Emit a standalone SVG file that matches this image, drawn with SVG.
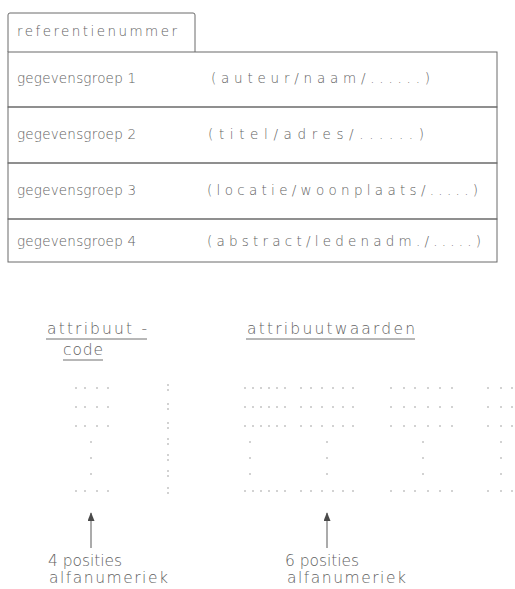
<svg xmlns="http://www.w3.org/2000/svg" width="515" height="589" viewBox="0 0 515 589">
  <style>
    .frame { fill: none; stroke: #6a6a6a; stroke-width: 1; }
    .lbl { font-family: "DejaVu Sans", "Liberation Sans", sans-serif; font-weight: 200; font-size: 13.5px; fill: #626262; }
    .big { font-size: 15.5px; }
    .uline { stroke: #707070; stroke-width: 1; }
    .dot { fill: #9a9a9a; }
    .arrow { stroke: #666666; stroke-width: 1.1; fill: none; }
  </style>
  <defs>
    <marker id="head" viewBox="0 0 10 8" refX="9" refY="4" markerWidth="9" markerHeight="7" markerUnits="userSpaceOnUse" orient="auto">
      <path d="M0,0 L10,4 L0,8 Z" fill="#4a4a4a"/>
    </marker>
    <circle id="d" r="0.8" class="dot"/>
    <!-- one full row of the character grid -->
    <g id="rowTemplate">
      <use href="#d" x="76"/><use href="#d" x="85"/><use href="#d" x="97"/><use href="#d" x="108"/>
      <use href="#d" x="245"/><use href="#d" x="253"/><use href="#d" x="261"/><use href="#d" x="269"/><use href="#d" x="277"/><use href="#d" x="285"/>
      <use href="#d" x="301"/><use href="#d" x="311"/><use href="#d" x="322"/><use href="#d" x="333"/><use href="#d" x="343"/><use href="#d" x="353"/>
      <use href="#d" x="391"/><use href="#d" x="404"/><use href="#d" x="415"/><use href="#d" x="428"/><use href="#d" x="440"/><use href="#d" x="452"/>
      <use href="#d" x="488"/><use href="#d" x="501"/><use href="#d" x="512"/>
    </g>
  </defs>

  <!-- record layout: key tab plus four data groups -->
  <g id="referentienummer">
    <path class="frame" d="M8,52 L8,15 Q8,13 10,13 L193,13 Q195,13 195,15 L195,52"/>
    <text class="lbl" x="17" y="36" textLength="160" lengthAdjust="spacing">referentienummer</text>
  </g>
  <g id="gegevensgroep1">
    <rect class="frame" x="8" y="52" width="489" height="55"/>
    <text class="lbl" x="17" y="83" textLength="119" lengthAdjust="spacing">gegevensgroep 1</text>
    <text class="lbl" x="211" y="83" textLength="219" lengthAdjust="spacing">(auteur/naam/......)</text>
  </g>
  <g id="gegevensgroep2">
    <rect class="frame" x="8" y="107" width="489" height="56"/>
    <text class="lbl" x="17" y="139" textLength="119" lengthAdjust="spacing">gegevensgroep 2</text>
    <text class="lbl" x="208" y="139" textLength="216" lengthAdjust="spacing">(titel/adres/......)</text>
  </g>
  <g id="gegevensgroep3">
    <rect class="frame" x="8" y="163" width="489" height="56"/>
    <text class="lbl" x="17" y="195" textLength="119" lengthAdjust="spacing">gegevensgroep 3</text>
    <text class="lbl" x="207" y="195" textLength="271" lengthAdjust="spacing">(locatie/woonplaats/.....)</text>
  </g>
  <g id="gegevensgroep4">
    <rect class="frame" x="8" y="219" width="489" height="43"/>
    <text class="lbl" x="17" y="246" textLength="119" lengthAdjust="spacing">gegevensgroep 4</text>
    <text class="lbl" x="207" y="246" textLength="274" lengthAdjust="spacing">(abstract/ledenadm./.....)</text>
  </g>

  <!-- column headings -->
  <g id="attribuutcode">
    <text class="lbl big" x="47" y="334" textLength="100" lengthAdjust="spacing">attribuut -</text>
    <line class="uline" x1="46" y1="339" x2="147" y2="339"/>
    <text class="lbl big" x="63" y="355" textLength="40" lengthAdjust="spacing">code</text>
    <line class="uline" x1="63" y1="360" x2="103" y2="360"/>
  </g>
  <g id="attribuutwaarden">
    <text class="lbl big" x="247" y="334" textLength="168" lengthAdjust="spacing">attribuutwaarden</text>
    <line class="uline" x1="246" y1="339" x2="415" y2="339"/>
  </g>

  <!-- dotted character grid -->
  <g id="grid">
    <use href="#rowTemplate" y="388"/>
    <use href="#rowTemplate" y="407"/>
    <use href="#rowTemplate" y="426"/>
    <use href="#rowTemplate" y="491"/>
    <!-- single-dot columns for rows 4 to 6 -->
    <use href="#d" x="91" y="442"/><use href="#d" x="91" y="458"/><use href="#d" x="91" y="474"/>
    <use href="#d" x="250" y="442"/><use href="#d" x="250" y="458"/><use href="#d" x="250" y="474"/>
    <use href="#d" x="327" y="442"/><use href="#d" x="327" y="458"/><use href="#d" x="327" y="474"/>
    <use href="#d" x="423" y="442"/><use href="#d" x="423" y="458"/><use href="#d" x="423" y="474"/>
    <use href="#d" x="501" y="442"/><use href="#d" x="501" y="458"/><use href="#d" x="501" y="474"/>
    <!-- separator colons -->
    <use href="#d" x="168" y="385"/><use href="#d" x="168" y="390"/>
    <use href="#d" x="168" y="404"/><use href="#d" x="168" y="409"/>
    <use href="#d" x="168" y="423"/><use href="#d" x="168" y="428"/>
    <use href="#d" x="168" y="439"/><use href="#d" x="168" y="444"/>
    <use href="#d" x="168" y="455"/><use href="#d" x="168" y="460"/>
    <use href="#d" x="168" y="471"/><use href="#d" x="168" y="476"/>
    <use href="#d" x="168" y="488"/><use href="#d" x="168" y="493"/>
  </g>

  <!-- pointers to the field widths -->
  <g id="connectors">
    <line class="arrow" x1="91" y1="548" x2="91" y2="513" marker-end="url(#head)"/>
    <line class="arrow" x1="327" y1="548" x2="327" y2="513" marker-end="url(#head)"/>
  </g>

  <g id="label4">
    <text class="lbl big" x="48" y="566" textLength="74" lengthAdjust="spacing">4 posities</text>
    <text class="lbl big" x="49" y="583" textLength="119" lengthAdjust="spacing">alfanumeriek</text>
  </g>
  <g id="label6">
    <text class="lbl big" x="285" y="566" textLength="74" lengthAdjust="spacing">6 posities</text>
    <text class="lbl big" x="287" y="583" textLength="119" lengthAdjust="spacing">alfanumeriek</text>
  </g>
</svg>
